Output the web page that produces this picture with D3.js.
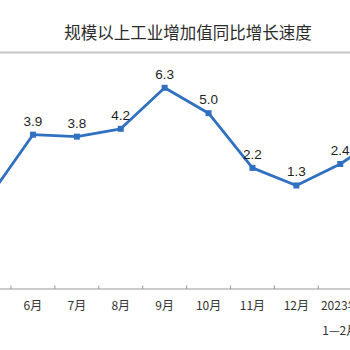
<!DOCTYPE html>
<html>
<head>
<meta charset="utf-8">
<script src="https://cdn.jsdelivr.net/npm/d3@7"></script>
<style>
  html, body { margin: 0; padding: 0; background: #ffffff; }
  svg { display: block; }
</style>
</head>
<body>
<svg id="chart" width="350" height="350"></svg>
<script>
// 规模以上工业增加值同比增长速度（%）
const months = ["4月", "5月", "6月", "7月", "8月", "9月", "10月", "11月", "12月", "2023年\n1—2月", "3月"];
const growth = [-2.9, 0.7, 3.9, 3.8, 4.2, 6.3, 5.0, 2.2, 1.3, 2.4, 3.9];
// months that carry a value label and an axis label inside the frame
const labelled = ["6月", "7月", "8月", "9月", "10月", "11月", "12月", "2023年\n1—2月"];
const title = "规模以上工业增加值同比增长速度";

const svg = d3.select("#chart");
const W = 350, H = 350;

const cjk = "'Noto Sans CJK SC', 'Noto Sans', sans-serif";
const latin = "Arial, 'Liberation Sans', sans-serif";

// title and rule beneath it
svg.append("text")
  .attr("x", 188).attr("y", 39)
  .attr("text-anchor", "middle")
  .attr("font-family", cjk)
  .attr("font-size", 16.5)
  .attr("fill", "#2b2b2b")
  .text(title);

svg.append("line")
  .attr("x1", 0).attr("x2", W)
  .attr("y1", 52.5).attr("y2", 52.5)
  .attr("stroke", "#c6c6c6")
  .attr("stroke-width", 2);

// scales: each month is one band, the plot runs past both edges
const x = d3.scaleBand()
  .domain(months)
  .range([-76.8, 406.1])
  .paddingInner(0).paddingOuter(0);

const y = d3.scaleLinear()
  .domain([-4, 6.3])
  .range([289, 87.8]);

const cx = d => x(d) + x.bandwidth() / 2;

// category axis along the bottom, ticks between bands
const axisY = y(-4);
svg.append("line")
  .attr("x1", 0).attr("x2", W)
  .attr("y1", axisY).attr("y2", axisY)
  .attr("stroke", "#9a9a9a")
  .attr("stroke-width", 1.2);

const bounds = months.slice(1).map(m => x(m));
svg.append("g").selectAll("line")
  .data(bounds)
  .join("line")
  .attr("x1", d => d).attr("x2", d => d)
  .attr("y1", axisY - 3.5).attr("y2", axisY)
  .attr("stroke", "#9a9a9a")
  .attr("stroke-width", 1);

const tickLabels = svg.append("g")
  .attr("font-family", cjk)
  .attr("font-size", 12)
  .attr("fill", "#333");

labelled.forEach(m => {
  const lines = m.split("\n");
  const t = tickLabels.append("text")
    .attr("text-anchor", "middle")
    .attr("x", cx(m))
    .attr("y", 310);
  lines.forEach((ln, i) => {
    t.append("tspan")
      .attr("x", cx(m))
      .attr("dy", i === 0 ? 0 : 24.5)
      .text(ln);
  });
});

// series line
const pts = months.map((m, i) => ({ m, v: growth[i] }));
const line = d3.line()
  .x(d => cx(d.m))
  .y(d => y(d.v));

svg.append("path")
  .datum(pts)
  .attr("d", line)
  .attr("fill", "none")
  .attr("stroke", "#2f70c1")
  .attr("stroke-width", 2.8)
  .attr("stroke-linejoin", "round");

// square markers
svg.append("g").selectAll("rect")
  .data(pts)
  .join("rect")
  .attr("x", d => cx(d.m) - 3)
  .attr("y", d => y(d.v) - 3)
  .attr("width", 6).attr("height", 6)
  .attr("fill", "#2f70c1");

// value labels
svg.append("g").selectAll("text")
  .data(pts.filter(d => labelled.includes(d.m)))
  .join("text")
  .attr("x", d => cx(d.m))
  .attr("y", d => y(d.v) - 9)
  .attr("text-anchor", "middle")
  .attr("font-family", latin)
  .attr("font-size", 13.5)
  .attr("fill", "#1e1e1e")
  .text(d => d.v.toFixed(1));
</script>
</body>
</html>
